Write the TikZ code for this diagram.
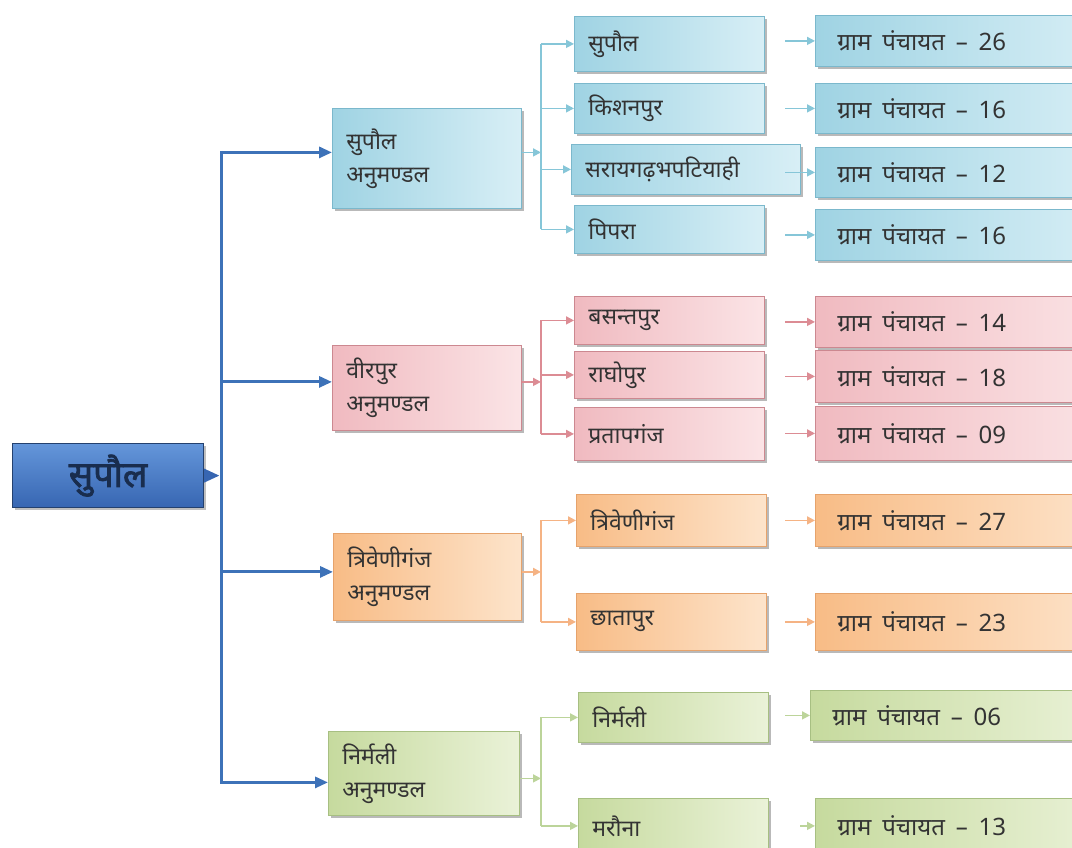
\documentclass[tikz,border=0pt]{standalone}
\usepackage{fontspec}
\newfontfamily\dev[Script=Devanagari]{Noto Sans}
\newfontfamily\devb[Script=Devanagari,FakeBold=2]{Noto Sans}
\usetikzlibrary{arrows.meta,shadows}
\definecolor{blueA}{HTML}{9FD3E3}
\definecolor{blueB}{HTML}{D8EFF6}
\definecolor{blueD}{HTML}{7BB8CC}
\definecolor{blueL}{HTML}{86C6D8}
\definecolor{pinkA}{HTML}{F0BAC0}
\definecolor{pinkB}{HTML}{FBE4E6}
\definecolor{pinkD}{HTML}{CC8890}
\definecolor{pinkL}{HTML}{DC8C94}
\definecolor{orA}{HTML}{F8BC86}
\definecolor{orB}{HTML}{FDE4CB}
\definecolor{orD}{HTML}{E6A36C}
\definecolor{orL}{HTML}{F5B384}
\definecolor{grA}{HTML}{C6DA9E}
\definecolor{grB}{HTML}{EAF2D8}
\definecolor{grD}{HTML}{A7BF82}
\definecolor{grL}{HTML}{BCD49A}
\definecolor{rootA}{HTML}{6496DA}
\definecolor{rootB}{HTML}{3766B2}
\definecolor{rootD}{HTML}{24416F}
\definecolor{trunk}{HTML}{3D72B8}
\definecolor{txt}{HTML}{333333}
\begin{document}
\begin{tikzpicture}[x=1pt,y=-1pt,
  box/.style={draw, line width=0.8pt, rectangle, inner xsep=14pt, inner ysep=2pt,
    anchor=north west, align=left, text=txt,
    font=\dev\fontsize{23}{33}\selectfont,
    drop shadow={shadow xshift=2.5pt,shadow yshift=-2.5pt,fill=black!50,opacity=0.55}},
  gbox/.style={box, inner xsep=22pt, font=\dev\fontsize{24}{28}\selectfont},
  blu/.style={draw=blueD, left color=blueA, right color=blueB},
  pnk/.style={draw=pinkD, left color=pinkA, right color=pinkB},
  org/.style={draw=orD, left color=orA, right color=orB},
  grn/.style={draw=grD, left color=grA, right color=grB},
  rootbox/.style={draw=rootD, line width=1.2pt, top color=rootA, bottom color=rootB,
    anchor=north west, text=rootD!70!black, font=\devb\fontsize{36}{40}\selectfont,
    drop shadow={shadow xshift=2.5pt,shadow yshift=-2.5pt,fill=black!50,opacity=0.5}},
  trunkline/.style={draw=trunk, line width=3pt},
  trunkarr/.style={trunkline, -{Triangle[length=13pt,width=11pt]}},
  barr/.style={line width=1.6pt, -{Triangle[length=8pt,width=8pt]}},
  bline/.style={line width=1.6pt}
]
\useasboundingbox (0,0) rectangle (1072,847);
\clip (0,0) rectangle (1072,847);

% root
\node[rootbox, minimum width=191pt, minimum height=64pt] (root) at (12,443) {सुपौल};
\fill[rootB] ([yshift=7pt]root.east) -- ([xshift=15pt]root.east) -- ([yshift=-7pt]root.east) -- cycle;

% sub-divisions
\node[box, blu, text width=161pt, minimum height=100pt] (s1) at (332,108) {सुपौल\\अनुमण्डल};
\node[box, pnk, text width=161pt, minimum height=85pt] (s2) at (332,345) {वीरपुर\\अनुमण्डल};
\node[box, org, text width=160pt, minimum height=87pt] (s3) at (333,533) {त्रिवेणीगंज\\अनुमण्डल};
\node[box, grn, text width=163pt, minimum height=84pt] (s4) at (328,731) {निर्मली\\अनुमण्डल};

% entry points on the sub-division boxes
\coordinate (e1) at ([yshift=6pt]s1.west);
\coordinate (e2) at ([yshift=6pt]s2.west);
\coordinate (e3) at ([yshift=5pt]s3.west);
\coordinate (e4) at ([yshift=-9pt]s4.west);
\coordinate (o1) at ([yshift=6pt]s1.east);
\coordinate (o2) at ([yshift=6pt]s2.east);
\coordinate (o3) at ([yshift=5pt]s3.east);
\coordinate (o4) at ([yshift=-5pt]s4.east);

% trunk
\coordinate (tk) at (221,475);
\draw[trunkline] ([yshift=1.5pt]tk |- e1) -- ([yshift=-1.5pt]tk |- e4);
\foreach \s in {e1,e2,e3,e4} \draw[trunkarr] (tk |- \s) -- (\s);

% blocks
\node[box, blu, text width=162pt, minimum height=55pt] (c11) at (574,16) {सुपौल};
\node[box, blu, text width=162pt, minimum height=50pt] (c12) at (574,83) {किशनपुर};
\node[box, blu, text width=201pt, minimum height=50pt] (c13) at (571,144) {सरायगढ़भपटियाही};
\node[box, blu, text width=162pt, minimum height=48pt] (c14) at (574,205) {पिपरा};
\node[box, pnk, text width=162pt, minimum height=48pt] (c21) at (574,296) {बसन्तपुर};
\node[box, pnk, text width=162pt, minimum height=47pt] (c22) at (574,351) {राघोपुर};
\node[box, pnk, text width=162pt, minimum height=53pt] (c23) at (574,407) {प्रतापगंज};
\node[box, org, text width=162pt, minimum height=52pt] (c31) at (576,494) {त्रिवेणीगंज};
\node[box, org, text width=162pt, minimum height=57pt] (c32) at (576,593) {छातापुर};
\node[box, grn, text width=162pt, minimum height=50pt] (c41) at (578,692) {निर्मली};
\node[box, grn, text width=162pt, minimum height=55pt] (c42) at (578,798) {मरौना};

% gram panchayat
\newcommand\gp[1]{ग्राम\hspace{0.45em}पंचायत\hspace{0.45em}–\hspace{0.45em}#1}
\node[gbox, blu, text width=250pt, minimum height=51pt] (g11) at (815,15) {\gp{26}};
\node[gbox, blu, text width=250pt, minimum height=50pt] (g12) at (815,83) {\gp{16}};
\node[gbox, blu, text width=250pt, minimum height=50pt] (g13) at (815,147) {\gp{12}};
\node[gbox, blu, text width=250pt, minimum height=51pt] (g14) at (815,209) {\gp{16}};
\node[gbox, pnk, text width=250pt, minimum height=51pt] (g21) at (815,296) {\gp{14}};
\node[gbox, pnk, text width=250pt, minimum height=52pt] (g22) at (815,350) {\gp{18}};
\node[gbox, pnk, text width=250pt, minimum height=54pt] (g23) at (815,406) {\gp{09}};
\node[gbox, org, text width=250pt, minimum height=52pt] (g31) at (815,494) {\gp{27}};
\node[gbox, org, text width=250pt, minimum height=57pt] (g32) at (815,593) {\gp{23}};
\node[gbox, grn, text width=250pt, minimum height=50pt] (g41) at (810,690) {\gp{06}};
\node[gbox, grn, text width=250pt, minimum height=55pt] (g42) at (815,798) {\gp{13}};

% branch connectors
\coordinate (br) at (541,0);
\coordinate (ax) at (785,0);
\coordinate (ax2) at (800,0);
\begin{scope}[draw=blueL, color=blueL]
  \draw[barr] (o1) -- (o1 -| br);
  \draw[bline] (c11.west -| br) -- (c14.west -| br);
  \foreach \c in {c11,c12,c13,c14} \draw[barr] (\c.west -| br) -- (\c.west);
  \foreach \g in {g11,g12,g13,g14} \draw[barr] (\g.west -| ax) -- (\g.west);
\end{scope}
\begin{scope}[draw=pinkL, color=pinkL]
  \draw[barr] (o2) -- (o2 -| br);
  \draw[bline] (c21.west -| br) -- (c23.west -| br);
  \foreach \c in {c21,c22,c23} \draw[barr] (\c.west -| br) -- (\c.west);
  \foreach \g in {g21,g22,g23} \draw[barr] (\g.west -| ax) -- (\g.west);
\end{scope}
\begin{scope}[draw=orL, color=orL]
  \draw[barr] (o3) -- (o3 -| br);
  \draw[bline] (c31.west -| br) -- (c32.west -| br);
  \foreach \c in {c31,c32} \draw[barr] (\c.west -| br) -- (\c.west);
  \foreach \g in {g31,g32} \draw[barr] (\g.west -| ax) -- (\g.west);
\end{scope}
\begin{scope}[draw=grL, color=grL]
  \draw[barr] (o4) -- (o4 -| br);
  \draw[bline] (c41.west -| br) -- (c42.west -| br);
  \foreach \c in {c41,c42} \draw[barr] (\c.west -| br) -- (\c.west);
  \draw[barr] (g41.west -| ax) -- (g41.west);
  \draw[barr] (g42.west -| ax2) -- (g42.west);
\end{scope}
\end{tikzpicture}
\end{document}
